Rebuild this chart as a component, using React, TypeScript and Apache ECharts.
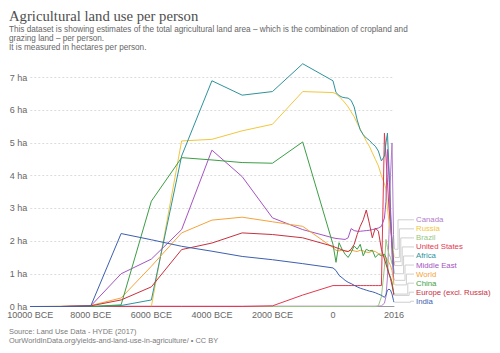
import React, { useEffect, useRef } from "react";
import * as echarts from "echarts";

const years = [
  -10000, -9000, -8000, -7000, -6000, -5000, -4000, -3000, -2000, -1000,
  0, 100, 200, 300, 400, 500, 600, 700, 800, 900, 1000, 1100, 1200, 1300, 1400, 1500, 1600, 1700,
  1750, 1800, 1850, 1900, 1950, 2000, 2016,
];

const xTickValues = [-10000, -8000, -6000, -4000, -2000, 0, 2016];

const canada = [
  0, 0, 0, 0.01, 0.01, 0.01, 0.01, 0.01, 0.01, 0.01,
  0.01, 0.01, 0.01, 0.01, 0.01, 0.01, 0.01, 0.01, 0.01, 0.01, 0.01, 0.01, 0.01, 0.01, 0.01, 0.01, 0.02, 0.1,
  0.3, 0.9, 2.2, 4.0, 5.0, 2.2, 1.75,
];
const russia = [
  0, 0, 0, 0, 0, 5.06, 5.11, 5.37, 5.57, 6.57,
  6.54, 6.5, 6.42, 6.33, 6.22, 6.1, 5.95, 5.8, 5.6, 5.42, 5.25, 5.05, 4.9, 4.7, 4.5, 4.3, 4.0, 3.75,
  3.6, 3.0, 2.6, 2.3, 2.1, 1.65, 1.5,
];
const brazil = [
  0, 0, 0, 0, 0, 0, 0, 0, 0, 0,
  0, 0, 0, 0, 0, 0, 0, 0, 0, 0, 0, 0, 0, 0, 0, 0.02, 0.3, 1.2,
  2.05, 1.8, 1.6, 1.5, 1.3, 1.3, 1.37,
];
const unitedStates = [
  0, 0, 0, 0, 0, 0, 0, 0, 0.02, 0.35,
  0.64, 0.64, 0.64, 0.64, 0.64, 0.64, 0.64, 0.64, 0.64, 0.64, 0.64, 0.64, 0.64, 0.64, 0.64, 0.64, 0.64, 5.3,
  4.6, 3.8, 3.0, 2.6, 1.9, 1.45, 1.25,
];
const africa = [
  0, 0, 0, 0.03, 0.2, 4.6, 6.9, 6.46, 6.57, 7.42,
  6.9, 6.54, 6.45, 6.4, 6.38, 6.37, 6.3, 6.1, 5.7, 5.4, 5.25, 5.15, 5.08, 4.98, 4.9, 4.75, 4.45, 4.6,
  5.0, 5.3, 4.2, 3.0, 2.0, 1.2, 1.0,
];
const middleEast = [
  0, 0, 0.02, 1.0, 1.45, 2.35, 4.78, 3.97, 2.71, 2.35,
  2.1, 2.08, 2.07, 2.06, 2.05, 2.1, 2.38, 2.32, 2.3, 2.3, 2.31, 2.32, 2.33, 2.35, 2.37, 2.4, 2.45, 2.7,
  3.2, 4.8, 4.0, 2.8, 1.6, 0.9, 0.8,
];
const world = [
  0, 0.01, 0.03, 0.26, 1.23, 2.25, 2.64, 2.73, 2.59, 2.45,
  1.8, 1.72, 1.7, 1.72, 1.7, 1.68, 1.72, 1.7, 1.68, 1.72, 1.7, 1.66, 1.65, 1.7, 1.68, 1.62, 1.6, 1.53,
  1.5, 1.42, 1.35, 1.25, 1.1, 0.78, 0.66,
];
const china = [
  0, 0, 0, 0.05, 3.22, 4.55, 4.48, 4.4, 4.38, 5.03,
  1.9, 1.35, 1.95, 1.75, 1.6, 1.5, 1.65, 1.85, 1.75, 1.9, 1.55, 1.75, 1.7, 1.72, 1.5, 1.6, 1.55, 1.6,
  1.5, 1.2, 1.0, 0.9, 0.75, 0.45, 0.38,
];
const europe = [
  0, 0, 0.02, 0.2, 0.6, 1.74, 1.94, 2.25, 2.2, 2.1,
  1.84, 1.8, 1.77, 1.73, 1.7, 1.68, 1.75, 1.9, 2.2, 2.45, 2.65, 2.95, 2.55, 2.1, 2.4, 2.3, 1.75, 1.45,
  1.3, 1.15, 1.0, 0.85, 0.65, 0.42, 0.34,
];
const india = [
  0, 0, 0.02, 2.23, 2.04, 1.84, 1.69, 1.53, 1.43, 1.31,
  1.18, 1.1, 0.95, 0.88, 0.8, 0.74, 0.7, 0.65, 0.6, 0.56, 0.53, 0.5, 0.47, 0.45, 0.42, 0.38, 0.34, 0.28,
  0.35, 0.5, 0.53, 0.5, 0.38, 0.18, 0.13,
];

const seriesNames = [
  "Canada", "Russia", "Brazil", "United States", "Africa",
  "Middle East", "World", "China", "Europe (excl. Russia)", "India",
];
const seriesValues = [canada, russia, brazil, unitedStates, africa, middleEast, world, china, europe, india];
const seriesColors = [
  "#b27dcb", "#f3c63c", "#98c77f", "#e4394f", "#2e939c",
  "#a553c2", "#f5a33a", "#3c9e45", "#c8303f", "#3c5fb0",
];

const titleText = "Agricultural land use per person";
const subtitleLines = [
  "This dataset is showing estimates of the total agricultural land area \u2013 which is the combination of cropland and",
  "grazing land \u2013 per person.",
  "It is measured in hectares per person.",
];
const footerLines = [
  "Source: Land Use Data - HYDE (2017)",
  "OurWorldInData.org/yields-and-land-use-in-agriculture/ \u2022 CC BY",
];

const SANS = '"Liberation Sans", Arial, Helvetica, sans-serif';
const SERIF = '"Liberation Serif", "Times New Roman", serif';

export default function App() {
  const ref = useRef<HTMLDivElement>(null);

  useEffect(() => {
    if (!ref.current) return;
    const chart = echarts.init(ref.current, undefined, { renderer: "svg" });

    const option: any = {
      animation: false,
      backgroundColor: "#ffffff",
      textStyle: { fontFamily: SANS },
      grid: { left: 30.3, right: 106, top: 77.5, bottom: 46.5, containLabel: false },
      xAxis: {
        type: "value",
        min: -10000,
        max: 2016,
        axisLine: { show: true, lineStyle: { color: "#9a9a9a", width: 1 } },
        axisTick: { show: false },
        splitLine: { show: false },
        axisLabel: {
          customValues: xTickValues,
          color: "#666",
          fontSize: 9,
          fontFamily: SANS,
          margin: 4,
          formatter: (v: number) => (v < 0 ? `${-v} BCE` : `${v}`),
        },
      },
      yAxis: {
        type: "value",
        min: 0,
        max: 7,
        interval: 1,
        axisLine: { show: false },
        axisTick: { show: false },
        splitLine: { show: true, lineStyle: { color: "#dcdcdc", type: [2, 2], width: 1 } },
        axisLabel: {
          color: "#666",
          fontSize: 9,
          fontFamily: SANS,
          margin: 3,
          formatter: (v: number) => `${v} ha`,
        },
      },
      series: seriesNames.map((name, i) => ({
        type: "line",
        name,
        data: years.map((y, j) => [y, seriesValues[i][j]]),
        showSymbol: false,
        symbol: "none",
        clip: false,
        lineStyle: { width: 1, color: seriesColors[i] },
        itemStyle: { color: seriesColors[i] },
        emphasis: { disabled: true },
        silent: true,
      })),
    };
    chart.setOption(option);

    // Labels with connector lines, positioned from the library's own pixel conversion
    const last = years.length - 1;
    const endVals = seriesValues.map((v) => v[last]);
    const order = endVals.map((_, i) => i).sort((a, b) => endVals[a] - endVals[b]);
    const lowestY = chart.convertToPixel({ gridIndex: 0 }, [years[last], endVals[order[0]]])[1];
    const elements: any[] = [];
    order.forEach((si, r) => {
      const [ex, ey] = chart.convertToPixel({ gridIndex: 0 }, [years[last], endVals[si]]);
      const ly = lowestY - 1 - r * 9.05;
      const labelX = ex + 22;
      const elbowX = ex + 4 + (9 - r) * 1.4;
      elements.push({
        type: "polyline",
        silent: true,
        shape: {
          points: [
            [ex + 1, ey],
            [elbowX, ey],
            [elbowX, ly],
            [labelX - 2, ly],
          ],
        },
        style: { stroke: "#cfcfcf", lineWidth: 1, fill: "none" },
        z: 1,
      });
      elements.push({
        type: "text",
        x: labelX,
        y: ly,
        silent: true,
        style: {
          text: seriesNames[si],
          fill: seriesColors[si],
          font: `7.8px ${SANS}`,
          verticalAlign: "middle",
          textVerticalAlign: "middle",
        },
        z: 2,
      });
    });

    elements.push({
      type: "text",
      x: 9,
      y: 15.5,
      style: {
        text: titleText,
        fill: "#4e4e4e",
        font: `14.7px ${SERIF}`,
        verticalAlign: "middle",
        textVerticalAlign: "middle",
      },
    });
    const subY = [29.8, 38.6, 47.4];
    subtitleLines.forEach((t, i) => {
      elements.push({
        type: "text",
        x: 9,
        y: subY[i],
        style: {
          text: t,
          fill: "#666",
          font: `8.2px ${SANS}`,
          verticalAlign: "middle",
          textVerticalAlign: "middle",
        },
      });
    });
    const footY = [331, 340];
    footerLines.forEach((t, i) => {
      elements.push({
        type: "text",
        x: 9,
        y: footY[i],
        style: {
          text: t,
          fill: "#7a7a7a",
          font: `7.4px ${SANS}`,
          verticalAlign: "middle",
          textVerticalAlign: "middle",
        },
      });
    });

    chart.setOption({ graphic: { elements } });

    return () => {
      chart.dispose();
    };
  }, []);

  return (
    <div
      ref={ref}
      style={{ position: "fixed", left: 0, top: 0, width: 500, height: 353, background: "#fff" }}
    />
  );
}
